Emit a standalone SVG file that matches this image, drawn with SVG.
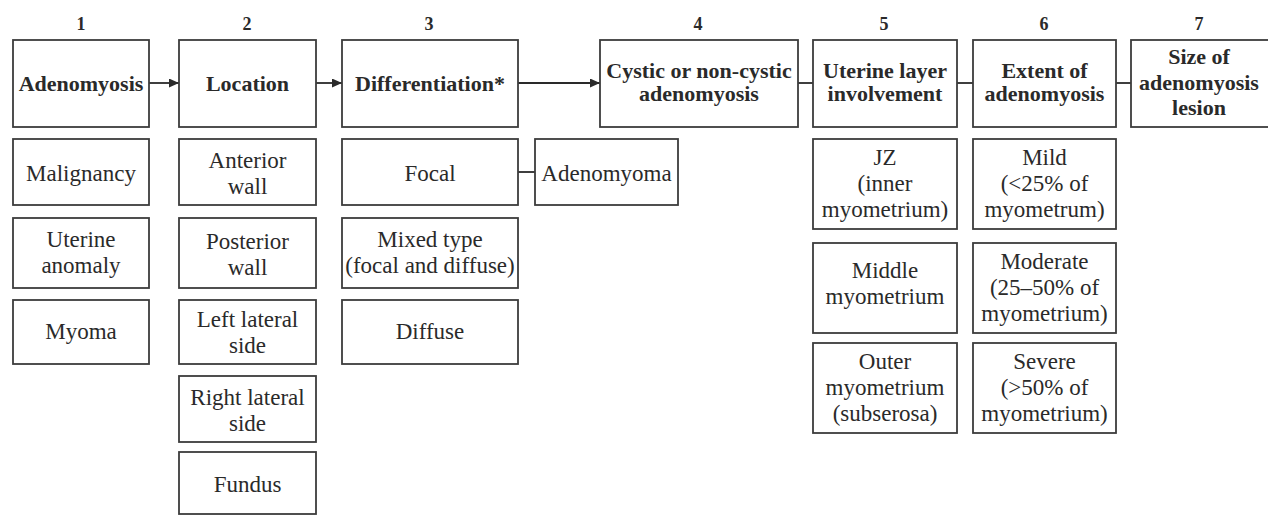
<svg xmlns="http://www.w3.org/2000/svg" width="1268" height="516" viewBox="0 0 1268 516">
<style>
.box{fill:#fff;stroke:#3c3c3c;stroke-width:1.8}
.t{font-family:"Liberation Serif",serif;font-size:23px;fill:#2a2a2a;text-anchor:middle}
.h{font-weight:bold;font-size:22px}
.n{font-family:"Liberation Serif",serif;font-size:18px;font-weight:bold;fill:#2a2a2a;text-anchor:middle}
.c{stroke:#2a2a2a;stroke-width:1.8;fill:none}
</style>
<defs>
<marker id="ah" markerWidth="10" markerHeight="9" refX="10" refY="4.5" orient="auto" markerUnits="userSpaceOnUse">
<path d="M0,0 L10,4.5 L0,9 Z" fill="#2a2a2a"/>
</marker>
</defs>
<g id="numbers">
<text class="n" x="81" y="30">1</text>
<text class="n" x="247" y="30">2</text>
<text class="n" x="429" y="30">3</text>
<text class="n" x="698" y="30">4</text>
<text class="n" x="884" y="30">5</text>
<text class="n" x="1044" y="30">6</text>
<text class="n" x="1199" y="30">7</text>
</g>
<g id="connectors">
<line class="c" x1="149" y1="83" x2="179" y2="83" marker-end="url(#ah)"/>
<line class="c" x1="316" y1="83" x2="342" y2="83" marker-end="url(#ah)"/>
<line class="c" x1="518" y1="83" x2="600" y2="83" marker-end="url(#ah)"/>
<line class="c" x1="798" y1="83" x2="813" y2="83"/>
<line class="c" x1="957" y1="83" x2="973" y2="83"/>
<line class="c" x1="1116" y1="83" x2="1131" y2="83"/>
<line class="c" x1="518" y1="172" x2="535" y2="172"/>
</g>
<g id="n1"><rect class="box" x="13" y="40" width="136" height="87"/><text class="t h" x="81" y="91">Adenomyosis</text></g>
<g id="n2"><rect class="box" x="179" y="40" width="137" height="87"/><text class="t h" x="247.5" y="91">Location</text></g>
<g id="n3"><rect class="box" x="342" y="40" width="176" height="87"/><text class="t h" x="430" y="91">Differentiation*</text></g>
<g id="n4"><rect class="box" x="600" y="40" width="198" height="87"/><text class="t h" x="699" y="78">Cystic or non-cystic</text><text class="t h" x="699" y="101">adenomyosis</text></g>
<g id="n5"><rect class="box" x="813" y="40" width="144" height="87"/><text class="t h" x="885" y="78">Uterine layer</text><text class="t h" x="885" y="101">involvement</text></g>
<g id="n6"><rect class="box" x="973" y="40" width="143" height="87"/><text class="t h" x="1044.5" y="78">Extent of</text><text class="t h" x="1044.5" y="101">adenomyosis</text></g>
<g id="n7"><rect class="box" x="1131" y="40" width="145" height="87"/><text class="t h" x="1199" y="64">Size of</text><text class="t h" x="1199" y="90">adenomyosis</text><text class="t h" x="1199" y="115">lesion</text></g>

<g id="malignancy"><rect class="box" x="13" y="139" width="136" height="66"/><text class="t" x="81" y="181">Malignancy</text></g>
<g id="uterine-anomaly"><rect class="box" x="13" y="218" width="136" height="70"/><text class="t" x="81" y="247">Uterine</text><text class="t" x="81" y="273">anomaly</text></g>
<g id="myoma"><rect class="box" x="13" y="300" width="136" height="64"/><text class="t" x="81" y="339">Myoma</text></g>

<g id="anterior"><rect class="box" x="179" y="139" width="137" height="66"/><text class="t" x="247.5" y="168">Anterior</text><text class="t" x="247.5" y="194">wall</text></g>
<g id="posterior"><rect class="box" x="179" y="218" width="137" height="70"/><text class="t" x="247.5" y="249">Posterior</text><text class="t" x="247.5" y="275">wall</text></g>
<g id="left-lateral"><rect class="box" x="179" y="300" width="137" height="64"/><text class="t" x="247.5" y="327">Left lateral</text><text class="t" x="247.5" y="353">side</text></g>
<g id="right-lateral"><rect class="box" x="179" y="376" width="137" height="66"/><text class="t" x="247.5" y="405">Right lateral</text><text class="t" x="247.5" y="431">side</text></g>
<g id="fundus"><rect class="box" x="179" y="452" width="137" height="62"/><text class="t" x="247.5" y="492">Fundus</text></g>

<g id="focal"><rect class="box" x="342" y="139" width="176" height="66"/><text class="t" x="430" y="181">Focal</text></g>
<g id="adenomyoma"><rect class="box" x="535" y="139" width="143" height="66"/><text class="t" x="606.5" y="181">Adenomyoma</text></g>
<g id="mixed"><rect class="box" x="342" y="218" width="176" height="70"/><text class="t" x="430" y="247">Mixed type</text><text class="t" x="430" y="273">(focal and diffuse)</text></g>
<g id="diffuse"><rect class="box" x="342" y="300" width="176" height="64"/><text class="t" x="430" y="339">Diffuse</text></g>

<g id="jz"><rect class="box" x="813" y="139" width="144" height="90"/><text class="t" x="885" y="165">JZ</text><text class="t" x="885" y="191">(inner</text><text class="t" x="885" y="217">myometrium)</text></g>
<g id="middle"><rect class="box" x="813" y="243" width="144" height="90"/><text class="t" x="885" y="278">Middle</text><text class="t" x="885" y="304">myometrium</text></g>
<g id="outer"><rect class="box" x="813" y="343" width="144" height="90"/><text class="t" x="885" y="369">Outer</text><text class="t" x="885" y="395">myometrium</text><text class="t" x="885" y="421">(subserosa)</text></g>

<g id="mild"><rect class="box" x="973" y="139" width="143" height="90"/><text class="t" x="1044.5" y="165">Mild</text><text class="t" x="1044.5" y="191">(&lt;25% of</text><text class="t" x="1044.5" y="217">myometrum)</text></g>
<g id="moderate"><rect class="box" x="973" y="243" width="143" height="90"/><text class="t" x="1044.5" y="269">Moderate</text><text class="t" x="1044.5" y="295">(25–50% of</text><text class="t" x="1044.5" y="321">myometrium)</text></g>
<g id="severe"><rect class="box" x="973" y="343" width="143" height="90"/><text class="t" x="1044.5" y="369">Severe</text><text class="t" x="1044.5" y="395">(&gt;50% of</text><text class="t" x="1044.5" y="421">myometrium)</text></g>
</svg>
